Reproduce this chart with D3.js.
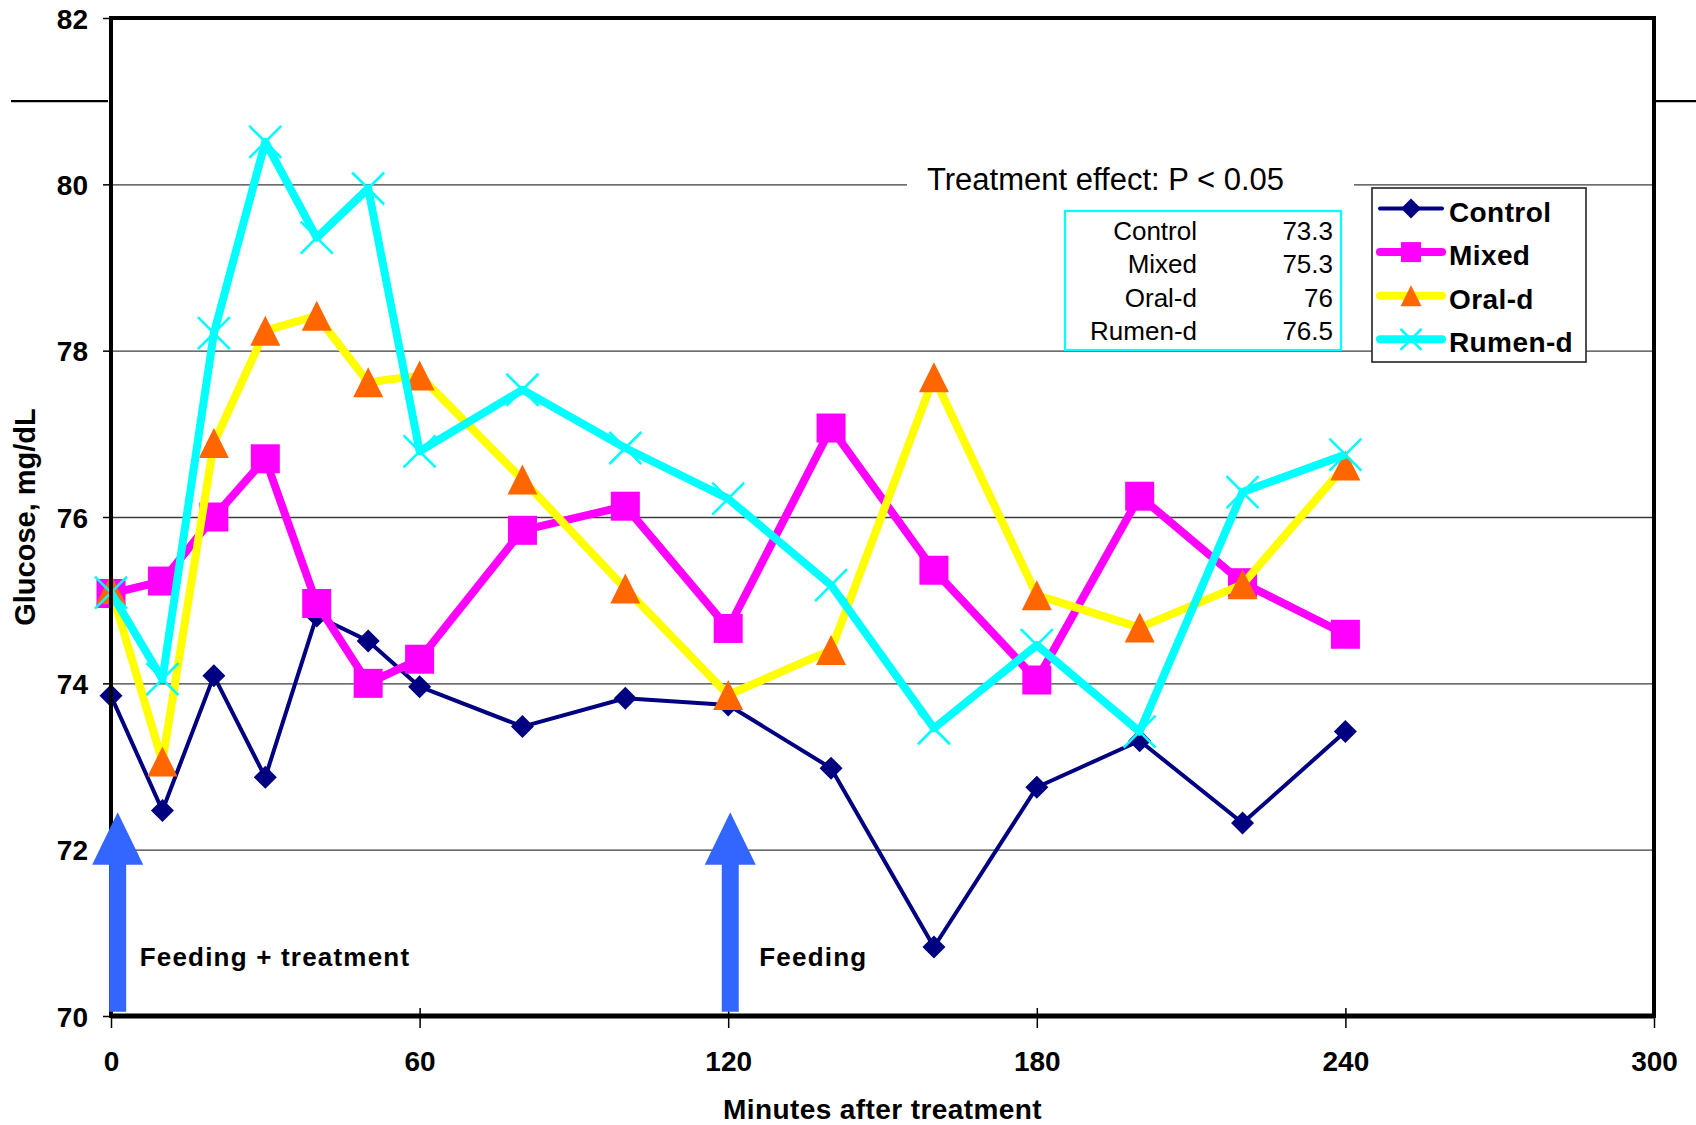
<!DOCTYPE html>
<html>
<head>
<meta charset="utf-8">
<script src="https://cdn.jsdelivr.net/npm/d3@7"></script>
<style>
  html, body { margin: 0; padding: 0; background: #fff; }
  svg { display: block; font-family: "Liberation Sans", Arial, sans-serif; }
</style>
</head>
<body>
<svg id="chart" width="1696" height="1125"></svg>
<script>
// Sampling times (minutes after treatment)
const times = [0, 10, 20, 30, 40, 50, 60, 80, 100, 120, 140, 160, 180, 200, 220, 240];

// Plasma glucose, mg/dL, per treatment
const control = [73.85, 72.47, 74.09, 72.87, 74.81, 74.51, 73.96, 73.48, 73.82, 73.74, 72.98, 70.83, 72.75, 73.31, 72.32, 73.42];
const mixed   = [75.08, 75.23, 76.00, 76.70, 74.96, 74.00, 74.29, 75.84, 76.13, 74.66, 77.07, 75.36, 74.04, 76.25, 75.21, 74.59];
const oralD   = [75.13, 73.06, 76.89, 78.24, 78.42, 77.62, 77.70, 76.45, 75.14, 73.86, 74.40, 77.68, 75.06, 74.67, 75.19, 76.62];
const rumenD  = [75.09, 74.05, 78.21, 80.51, 79.36, 79.95, 76.79, 77.53, 76.83, 76.22, 75.18, 73.46, 74.46, 73.42, 76.30, 76.75];

const seriesNames = ["Control", "Mixed", "Oral-d", "Rumen-d"];

// Treatment means shown in the summary box
const meanLabels = ["Control", "Mixed", "Oral-d", "Rumen-d"];
const meanValues = ["73.3", "75.3", "76", "76.5"];

// Axis ticks
const xTicks = [0, 60, 120, 180, 240, 300];
const yTicks = [70, 72, 74, 76, 78, 80, 82];

// Feeding events
const eventTimes = [1.3, 120.4];
const eventLabels = ["Feeding + treatment", "Feeding"];
const eventLabelGap = [22, 29];

const svg = d3.select("#chart");
const x = d3.scaleLinear().domain([0, 300]).range([111, 1654]);
const y = d3.scaleLinear().domain([70, 82]).range([1016, 18]);

const styles = [
  { line: "#000080", width: 4,   marker: "diamond",  fill: "#000080" },
  { line: "#FF00FF", width: 8,   marker: "square",   fill: "#FF00FF" },
  { line: "#FFFF00", width: 8,   marker: "triangle", fill: "#FF6600" },
  { line: "#00FFFF", width: 8,   marker: "cross",    fill: "#00FFFF" }
];
const seriesData = [control, mixed, oralD, rumenD];

// Gridlines
const grid = svg.append("g").attr("transform", `translate(${x(0)},0)`)
  .call(d3.axisLeft(y).tickValues([72, 74, 76, 78, 80]).tickSize(-(x(300) - x(0))).tickFormat(""));
grid.select(".domain").remove();
grid.selectAll("line").attr("stroke", "#3c3c3c").attr("stroke-width", 1.4);

// Stray rule at 81 outside the plot frame
svg.append("line").attr("x1", 11).attr("x2", x(0) - 3).attr("y1", y(81)).attr("y2", y(81))
  .attr("stroke", "#000").attr("stroke-width", 2.2);
svg.append("line").attr("x1", x(300) + 2).attr("x2", 1696).attr("y1", y(81)).attr("y2", y(81))
  .attr("stroke", "#000").attr("stroke-width", 2.2);

// Treatment effect note
svg.append("rect").attr("x", 907).attr("y", 162).attr("width", 447).attr("height", 38).attr("fill", "#fff");
svg.append("text").attr("x", 927).attr("y", 190).attr("font-size", 31).attr("fill", "#000")
  .text("Treatment effect: P < 0.05");

// Marker shapes
function markerPath(kind, s) {
  const h = s / 2;
  if (kind === "diamond") return `M0,${-h}L${h},0L0,${h}L${-h},0Z`;
  if (kind === "square") return `M${-h},${-h}H${h}V${h}H${-h}Z`;
  if (kind === "triangle") return `M0,${-h}L${h},${h}L${-h},${h}Z`;
  return `M${-h},${-h}L${h},${h}M${h},${-h}L${-h},${h}`;
}
const markerSize = { diamond: 23, square: 29, triangle: 30, cross: 32 };
const legendMarkerSize = { diamond: 20, square: 20, triangle: 21, cross: 21 };

function drawMarker(g, kind, size, st) {
  const p = g.append("path").attr("d", markerPath(kind, size));
  if (kind === "cross") p.attr("fill", "none").attr("stroke", st.fill).attr("stroke-width", 2.6);
  else p.attr("fill", st.fill);
}

// Series lines and markers
const line = d3.line().x((d, i) => x(times[i])).y(d => y(d));
seriesData.forEach((vals, k) => {
  const st = styles[k];
  const g = svg.append("g");
  g.append("path").datum(vals).attr("d", line).attr("fill", "none")
    .attr("stroke", st.line).attr("stroke-width", st.width).attr("stroke-linejoin", "round");
  vals.forEach((v, i) => {
    const m = g.append("g").attr("transform", `translate(${x(times[i])},${y(v)})`);
    drawMarker(m, st.marker, markerSize[st.marker], st);
  });
});

// Summary box of means
svg.append("rect").attr("x", 1065).attr("y", 211).attr("width", 276).attr("height", 139)
  .attr("fill", "#fff").attr("stroke", "#00FFFF").attr("stroke-width", 2.2);
meanLabels.forEach((lab, i) => {
  const by = 240 + i * 33.4;
  svg.append("text").attr("x", 1197).attr("y", by).attr("text-anchor", "end")
    .attr("font-size", 26).attr("fill", "#000").text(lab);
  svg.append("text").attr("x", 1333).attr("y", by).attr("text-anchor", "end")
    .attr("font-size", 26).attr("fill", "#000").text(meanValues[i]);
});

// Legend
svg.append("rect").attr("x", 1372).attr("y", 188).attr("width", 214).attr("height", 174)
  .attr("fill", "#fff").attr("stroke", "#222").attr("stroke-width", 1.6);
seriesNames.forEach((name, i) => {
  const st = styles[i];
  const ly = 208.5 + i * 43.6;
  svg.append("line").attr("x1", 1380).attr("x2", 1442).attr("y1", ly).attr("y2", ly)
    .attr("stroke", st.line).attr("stroke-width", i === 0 ? 4 : 8).attr("stroke-linecap", "round");
  const m = svg.append("g").attr("transform", `translate(1411,${ly})`);
  drawMarker(m, st.marker, legendMarkerSize[st.marker], st);
  svg.append("text").attr("x", 1449).attr("y", ly + 13).attr("font-size", 28)
    .attr("font-weight", "bold").attr("letter-spacing", 0.4).attr("fill", "#000").text(name);
});

// Plot frame
svg.append("rect").attr("x", x(0)).attr("y", y(82)).attr("width", x(300) - x(0)).attr("height", y(70) - y(82))
  .attr("fill", "none").attr("stroke", "#000").attr("stroke-width", 4);
svg.append("line").attr("x1", x(0)).attr("x2", x(300)).attr("y1", y(70)).attr("y2", y(70))
  .attr("stroke", "#000").attr("stroke-width", 5);

// Y axis
const yAxis = svg.append("g").attr("transform", `translate(${x(0)},0)`)
  .call(d3.axisLeft(y).tickValues(yTicks).tickSizeInner(8).tickSizeOuter(0).tickPadding(15).tickFormat(d3.format("d")));
yAxis.select(".domain").remove();
yAxis.selectAll("line").attr("stroke", "#000").attr("stroke-width", 1.5);
yAxis.selectAll("text").attr("font-size", 28).attr("font-weight", "bold").attr("fill", "#000")
  .attr("font-family", "'Liberation Sans', Arial, sans-serif").attr("dy", "0.36em");

// X axis
const xAxis = svg.append("g").attr("transform", `translate(0,${y(70)})`)
  .call(d3.axisBottom(x).tickValues(xTicks).tickSizeInner(12).tickSizeOuter(0).tickFormat(d3.format("d")));
xAxis.select(".domain").remove();
xAxis.selectAll("line").attr("stroke", "#000").attr("stroke-width", 1.5).attr("y1", -8);
xAxis.selectAll("text").attr("font-size", 28).attr("font-weight", "bold").attr("fill", "#000")
  .attr("font-family", "'Liberation Sans', Arial, sans-serif").attr("dy", null).attr("y", 55);

// Axis titles
svg.append("text").attr("transform", `translate(35,${y(76)}) rotate(-90)`)
  .attr("text-anchor", "middle").attr("font-size", 29).attr("font-weight", "bold").attr("fill", "#000")
  .text("Glucose, mg/dL");
svg.append("text").attr("x", (x(0) + x(300)) / 2).attr("y", 1119).attr("text-anchor", "middle")
  .attr("font-size", 28).attr("font-weight", "bold").attr("letter-spacing", 0.4).attr("fill", "#000")
  .text("Minutes after treatment");

// Feeding arrows
const arrowTop = y(72.45), arrowHeadBase = y(71.82), arrowBottom = y(70.05);
eventTimes.forEach((t, i) => {
  const cx = x(t);
  const shaft = 8.5, head = 25.5;
  svg.append("path")
    .attr("d", `M${cx},${arrowTop}L${cx + head},${arrowHeadBase}L${cx + shaft},${arrowHeadBase}L${cx + shaft},${arrowBottom}` +
               `L${cx - shaft},${arrowBottom}L${cx - shaft},${arrowHeadBase}L${cx - head},${arrowHeadBase}Z`)
    .attr("fill", "#3366FF");
  svg.append("text").attr("x", cx + eventLabelGap[i]).attr("y", 966).attr("font-size", 26).attr("font-weight", "bold")
    .attr("letter-spacing", 1.2).attr("fill", "#000").text(eventLabels[i]);
});
</script>
</body>
</html>
